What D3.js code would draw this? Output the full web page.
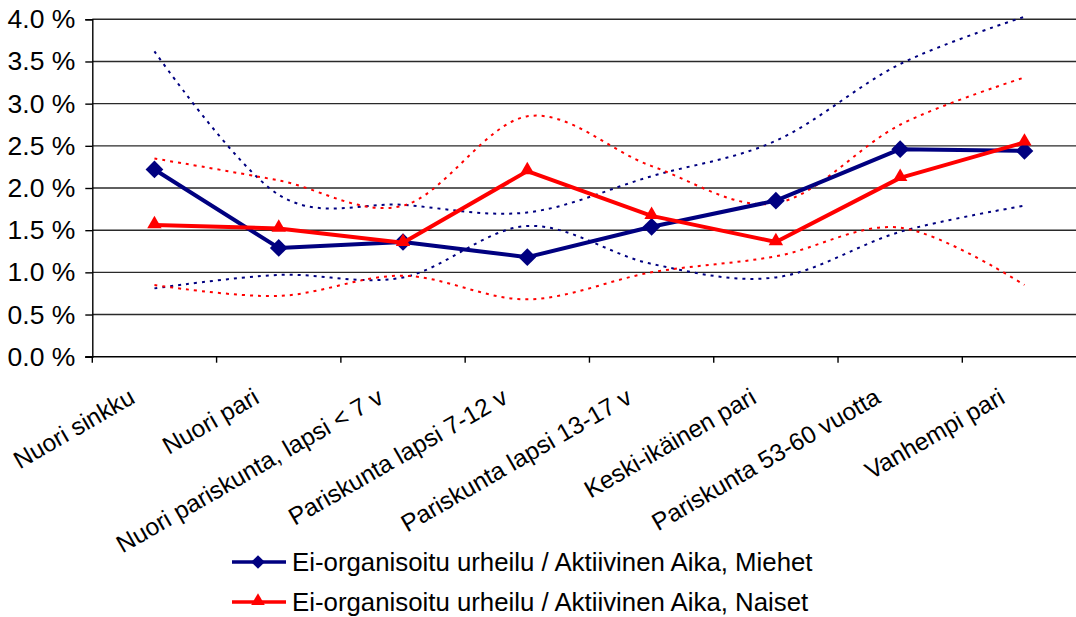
<!DOCTYPE html>
<html>
<head>
<meta charset="utf-8">
<script src="https://cdn.jsdelivr.net/npm/d3@7"></script>
<style>
  body { margin: 0; background: #fff; }
  svg { display: block; font-family: "Liberation Sans", Arial, sans-serif; }
</style>
</head>
<body>
<svg id="chart"></svg>
<script>
const w = 1076;
const h = 617;

const categories = ["Nuori sinkku", "Nuori pari", "Nuori pariskunta, lapsi < 7 v", "Pariskunta lapsi 7-12 v",
  "Pariskunta lapsi 13-17 v", "Keski-ikäinen pari", "Pariskunta 53-60 vuotta", "Vanhempi pari"];
const yTicks = [0, 0.5, 1, 1.5, 2, 2.5, 3, 3.5, 4];

// main series (%)
const miehet = [2.22, 1.29, 1.36, 1.18, 1.54, 1.85, 2.46, 2.44];
const naiset = [1.56, 1.52, 1.35, 2.20, 1.67, 1.36, 2.12, 2.54];
// dotted bounds
const miehetYla = [3.62, 1.92, 1.80, 1.71, 2.14, 2.56, 3.47, 4.03];
const miehetAla = [0.81, 0.97, 0.94, 1.55, 1.10, 0.94, 1.48, 1.79];
const naisetYla = [2.35, 2.09, 1.79, 2.85, 2.26, 1.82, 2.75, 3.31];
const naisetAla = [0.85, 0.72, 0.96, 0.68, 1.00, 1.19, 1.53, 0.85];

const legendLabels = ["Ei-organisoitu urheilu / Aktiivinen Aika, Miehet",
  "Ei-organisoitu urheilu / Aktiivinen Aika, Naiset"];

const blue = "#000080";
const red = "#ff0000";

const svg = d3.select("#chart")
  .attr("width", w)
  .attr("height", h)
  .attr("viewBox", [0, 0, w, h]);

const padL = 92.3, padR = 1086.6, padT = 19.3, padB = 356.7;

const x = d3.scaleBand().domain(categories).range([padL, padR]);
const cx = d => x(d) + x.bandwidth() / 2;
const y = d3.scaleLinear().domain([0, 4]).range([padB, padT]);

// grid
svg.append("g")
  .selectAll("line")
  .data(yTicks.filter(t => t > 0))
  .enter()
  .append("line")
  .attr("x1", padL)
  .attr("x2", w)
  .attr("y1", d => y(d))
  .attr("y2", d => y(d))
  .attr("stroke", "#2a2a2a")
  .attr("stroke-width", 1.4);

// y axis
const yAxis = d3.axisLeft(y)
  .tickValues(yTicks)
  .tickSize(7)
  .tickPadding(10)
  .tickFormat(d => d3.format(".1f")(d) + " %");

const gy = svg.append("g")
  .attr("transform", `translate(${padL},0)`)
  .call(yAxis);
gy.select(".domain").attr("stroke", "#000").attr("stroke-width", 1.4);
gy.selectAll(".tick line").attr("stroke", "#000").attr("stroke-width", 1.4);
gy.selectAll("text")
  .attr("font-size", 26.5)
  .attr("font-family", "Liberation Sans, Arial, sans-serif")
  .attr("fill", "#000");

// x axis with ticks at band edges
const gx = svg.append("g")
  .attr("transform", `translate(0,${padB})`);
gx.append("line")
  .attr("x1", padL - 7).attr("x2", w)
  .attr("stroke", "#000").attr("stroke-width", 1.6);
gx.selectAll("line.tk")
  .data(categories.concat(["end"]))
  .enter()
  .append("line")
  .attr("class", "tk")
  .attr("x1", (d, i) => i < categories.length ? x(d) : padR)
  .attr("x2", (d, i) => i < categories.length ? x(d) : padR)
  .attr("y1", 0)
  .attr("y2", 6)
  .attr("stroke", "#000")
  .attr("stroke-width", 1.4);

svg.append("g")
  .selectAll("text")
  .data(categories)
  .enter()
  .append("text")
  .attr("transform", d => `translate(${cx(d) - 18},402) rotate(-30)`)
  .attr("text-anchor", "end")
  .attr("font-size", 24.5)
  .attr("fill", "#000")
  .text(d => d);

// dotted bound lines, smoothed like the spreadsheet curves
const smooth = d3.line()
  .x((d, i) => cx(categories[i]))
  .y(d => y(d))
  .curve(d3.curveCatmullRom.alpha(0));

const bounds = [
  { values: miehetYla, color: blue },
  { values: miehetAla, color: blue },
  { values: naisetYla, color: red },
  { values: naisetAla, color: red }
];

svg.append("g")
  .selectAll("path")
  .data(bounds)
  .enter()
  .append("path")
  .attr("d", d => smooth(d.values))
  .attr("fill", "none")
  .attr("stroke", d => d.color)
  .attr("stroke-width", 2)
  .attr("stroke-dasharray", "3,5");

// main lines
const straight = d3.line()
  .x((d, i) => cx(categories[i]))
  .y(d => y(d));

const diamond = d3.symbol().type(d3.symbolDiamond2).size(200);
const triangle = d3.symbol().type(d3.symbolTriangle).size(90);

function drawSeries(values, color, symbol, dy) {
  const g = svg.append("g");
  g.append("path")
    .attr("d", straight(values))
    .attr("fill", "none")
    .attr("stroke", color)
    .attr("stroke-width", 4)
    .attr("stroke-linejoin", "round");
  g.selectAll("path.mark")
    .data(values)
    .enter()
    .append("path")
    .attr("class", "mark")
    .attr("d", symbol)
    .attr("transform", (d, i) => `translate(${cx(categories[i])},${y(d) + dy})`)
    .attr("fill", color);
}

drawSeries(miehet, blue, diamond, 0);
drawSeries(naiset, red, triangle, -1);

// legend
const legend = svg.append("g")
  .selectAll("g")
  .data(legendLabels)
  .enter()
  .append("g")
  .attr("transform", (d, i) => `translate(232,${562 + i * 40})`);

legend.append("line")
  .attr("x1", 0).attr("x2", 54)
  .attr("stroke", (d, i) => i === 0 ? blue : red)
  .attr("stroke-width", 3.5);

legend.append("path")
  .attr("d", (d, i) => i === 0 ? d3.symbol().type(d3.symbolDiamond2).size(120)() : d3.symbol().type(d3.symbolTriangle).size(80)())
  .attr("transform", (d, i) => `translate(26,${i === 0 ? 0 : -1})`)
  .attr("fill", (d, i) => i === 0 ? blue : red);

legend.append("text")
  .attr("x", 60)
  .attr("dy", "0.35em")
  .attr("font-size", 25.8)
  .attr("fill", "#000")
  .text(d => d);
</script>
</body>
</html>
